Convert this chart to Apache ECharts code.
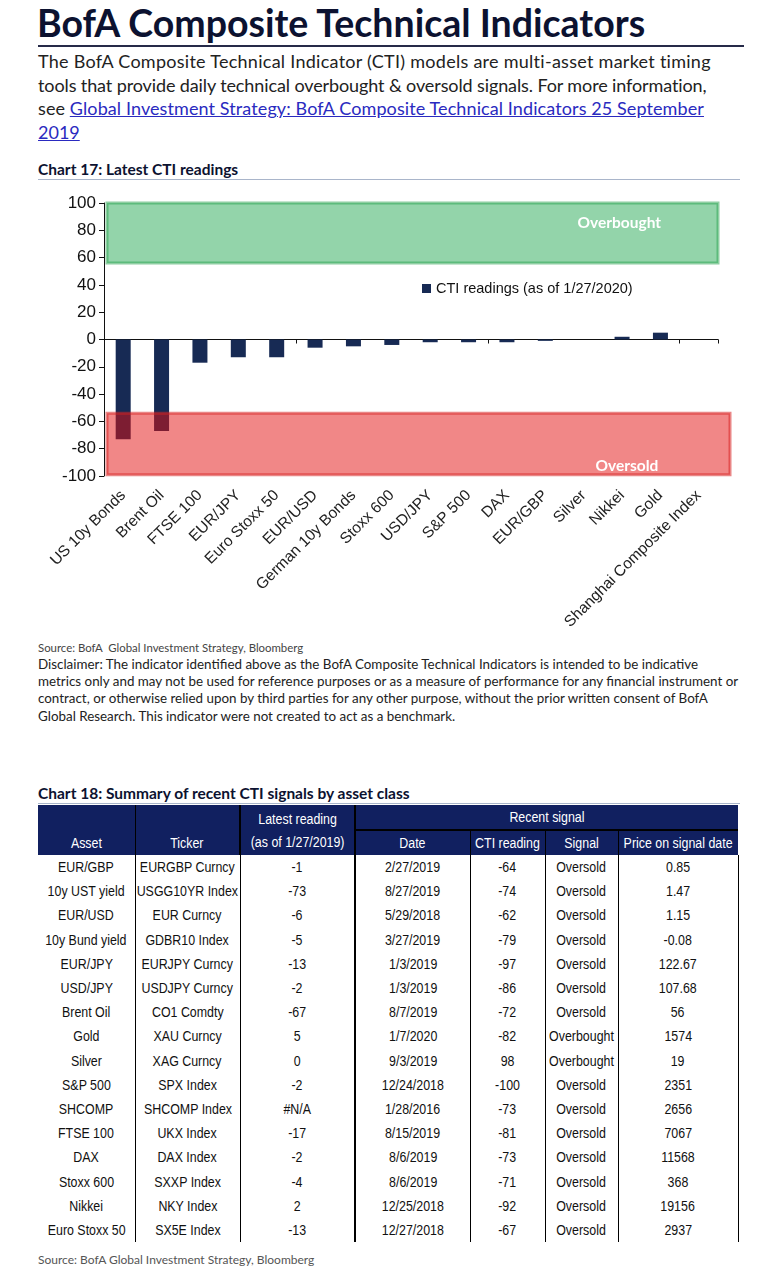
<!DOCTYPE html>
<html>
<head>
<meta charset="utf-8">
<script src="https://cdn.jsdelivr.net/npm/echarts/dist/echarts.min.js"></script>
<style>
  html, body { margin:0; padding:0; background:#fff; }
  body { width:771px; height:1280px; position:relative; overflow:hidden; font-family:Lato, "Open Sans", sans-serif; color:#1a1a1a; }
  .abs { position:absolute; white-space:nowrap; }
  #title { left:37px; top:1px; font-size:37.5px; font-weight:bold; line-height:44px; color:#0c1230; }
  #rule1 { left:38px; top:45px; width:706px; height:2px; background:#262a48; }
  #intro { left:38px; top:50px; font-size:18px; line-height:23.7px; color:#222; }
  #intro div { white-space:nowrap; }
  #intro a { color:#2a2ac0; text-decoration:underline; }
  .ctitle { left:38px; font-size:15.5px; font-weight:bold; line-height:18px; color:#0c1230; }
  .crule { left:38px; width:702px; height:1px; background:#a9b5ca; }
  #chart { position:absolute; left:0; top:190px; width:771px; height:445px; }
  #src1 { left:38px; top:640px; font-size:11.4px; line-height:16px; color:#444; }
  #disc { left:38px; top:656px; font-size:13.4px; line-height:17.2px; color:#222; }
  #src2 { left:38px; top:1252px; font-size:12px; line-height:16px; color:#555; }
  #tbl { position:absolute; left:38px; top:805px; border-collapse:collapse; table-layout:fixed; width:700px;
         font-family:"Liberation Sans", Arial, sans-serif; font-size:15.5px; color:#111; }
  #tbl th { background:#112060; color:#fff; font-weight:normal; height:24px; padding:0; text-align:center; border:0; }
  #tbl td { height:24.2px; padding:0; }
  .cw { display:flex; justify-content:center; width:100%; }
  .cw span { display:inline-block; transform:scaleX(0.8); white-space:nowrap; text-align:center; }
  #tbl th.rb1 { border-right:1px solid #000; }
  #tbl th.rb2 { border-right:2px solid #000; }
  #tbl th.bb { border-bottom:2px solid #000; }
  #tbl th.tall { line-height:23px; vertical-align:middle; }
  #tbl th.bot { vertical-align:bottom; padding-bottom:3px; }
  #tbl td.c1 { border-right:1px solid #000; }
  #tbl td.c2 { border-right:1.5px solid #000; }
  #tbl td.c3 { border-right:2px solid #000; }
  #tbl td.c4, #tbl td.c5, #tbl td.c6, #tbl td.c7 { border-right:1.5px solid #000; }
</style>
</head>
<body>
<div id="title" class="abs">BofA Composite Technical Indicators</div>
<div id="rule1" class="abs"></div>
<div id="intro" class="abs">
  <div style="letter-spacing:0.27px">The BofA Composite Technical Indicator (CTI) models are multi-asset market timing</div>
  <div style="letter-spacing:-0.11px">tools that provide daily technical overbought &amp; oversold signals. For more information,</div>
  <div style="letter-spacing:0.1px">see <a href="#">Global Investment Strategy: BofA Composite Technical Indicators 25 September</a></div>
  <div><a href="#">2019</a></div>
</div>

<div class="abs ctitle" style="top:160px;">Chart 17: Latest CTI readings</div>
<div class="abs crule" style="top:179px;"></div>
<div id="chart"></div>

<div id="src1" class="abs">Source: BofA&nbsp; Global Investment Strategy, Bloomberg</div>
<div id="disc" class="abs">Disclaimer: The indicator identified above as the BofA Composite Technical Indicators is intended to be indicative<br>metrics only and may not be used for reference purposes or as a measure of performance for any financial instrument or<br>contract, or otherwise relied upon by third parties for any other purpose, without the prior written consent of BofA<br>Global Research. This indicator were not created to act as a benchmark.</div>

<div class="abs ctitle" style="top:784px;">Chart 18: Summary of recent CTI signals by asset class</div>
<div class="abs crule" style="top:803px;"></div>
<table id="tbl">
  <colgroup>
    <col style="width:97px"><col style="width:105px"><col style="width:115px"><col style="width:115px"><col style="width:75px"><col style="width:73px"><col style="width:120px">
  </colgroup>
  <thead>
    <tr>
      <th rowspan="2" class="rb1 bot"><div class="cw"><span>Asset</span></div></th>
      <th rowspan="2" class="rb2 bot"><div class="cw"><span>Ticker</span></div></th>
      <th rowspan="2" class="rb2 tall"><div class="cw"><span>Latest reading<br>(as of 1/27/2019)</span></div></th>
      <th colspan="4" class="bb"><div class="cw"><span>Recent signal</span></div></th>
    </tr>
    <tr>
      <th class="rb1"><div class="cw"><span>Date</span></div></th>
      <th class="rb1"><div class="cw"><span>CTI reading</span></div></th>
      <th class="rb1"><div class="cw"><span>Signal</span></div></th>
      <th><div class="cw"><span>Price on signal date</span></div></th>
    </tr>
  </thead>
  <tbody id="tbody"></tbody>
</table>
<div id="src2" class="abs">Source: BofA Global Investment Strategy, Bloomberg</div>

<script>
// ---- Chart 17 data ----
const categories = ['US 10y Bonds','Brent Oil','FTSE 100','EUR/JPY','Euro Stoxx 50','EUR/USD','German 10y Bonds','Stoxx 600','USD/JPY','S&P 500','DAX','EUR/GBP','Silver','Nikkei','Gold','Shanghai Composite Index'];
const ctiReadings = [-73,-67,-17,-13,-13,-6,-5,-4,-2,-2,-2,-1,0,2,5,null];
const seriesName = 'CTI readings (as of 1/27/2020)';
const overboughtBand = [56, 100];
const oversoldBand = [-99, -54];
const yMin = -100, yMax = 100, yStep = 20;

// ---- Chart 18 data ----
const assets   = ['EUR/GBP','10y UST yield','EUR/USD','10y Bund yield','EUR/JPY','USD/JPY','Brent Oil','Gold','Silver','S&P 500','SHCOMP','FTSE 100','DAX','Stoxx 600','Nikkei','Euro Stoxx 50'];
const tickers  = ['EURGBP Curncy','USGG10YR Index','EUR Curncy','GDBR10 Index','EURJPY Curncy','USDJPY Curncy','CO1 Comdty','XAU Curncy','XAG Curncy','SPX Index','SHCOMP Index','UKX Index','DAX Index','SXXP Index','NKY Index','SX5E Index'];
const latest   = ['-1','-73','-6','-5','-13','-2','-67','5','0','-2','#N/A','-17','-2','-4','2','-13'];
const sigDates = ['2/27/2019','8/27/2019','5/29/2018','3/27/2019','1/3/2019','1/3/2019','8/7/2019','1/7/2020','9/3/2019','12/24/2018','1/28/2016','8/15/2019','8/6/2019','8/6/2019','12/25/2018','12/27/2018'];
const sigCti   = ['-64','-74','-62','-79','-97','-86','-72','-82','98','-100','-73','-81','-73','-71','-92','-67'];
const signals  = ['Oversold','Oversold','Oversold','Oversold','Oversold','Oversold','Oversold','Overbought','Overbought','Oversold','Oversold','Oversold','Oversold','Oversold','Oversold','Oversold'];
const prices   = ['0.85','1.47','1.15','-0.08','122.67','107.68','56','1574','19','2351','2656','7067','11568','368','19156','2937'];

// build table
const tb = document.getElementById('tbody');
for (let i = 0; i < assets.length; i++) {
  const tr = document.createElement('tr');
  [assets[i], tickers[i], latest[i], sigDates[i], sigCti[i], signals[i], prices[i]].forEach((v, j) => {
    const td = document.createElement('td');
    td.className = 'c' + (j + 1);
    const w = document.createElement('div'); w.className = 'cw';
    const s = document.createElement('span'); s.textContent = v;
    w.appendChild(s); td.appendChild(w);
    tr.appendChild(td);
  });
  tb.appendChild(tr);
}

const sans = '"Liberation Sans", Arial, sans-serif';
const chart = echarts.init(document.getElementById('chart'), null, { renderer: 'canvas' });
chart.setOption({
  animation: false,
  backgroundColor: '#fff',
  grid: { left: 104, top: 13, width: 614, height: 273 },
  legend: {
    data: [seriesName], left: 417, top: 86, icon: 'rect', itemWidth: 9, itemHeight: 9, itemGap: 5,
    textStyle: { fontFamily: sans, fontSize: 14.5, color: '#111' }
  },
  xAxis: [
    {
      type: 'category', data: categories, position: 'bottom',
      axisLine: { show: false, onZero: false }, axisTick: { show: false },
      axisLabel: { interval: 0, rotate: 45, margin: 17, fontFamily: sans, fontSize: 15.5, color: '#222' }
    },
    {
      type: 'category', data: categories, position: 'top',
      axisLine: { show: true, onZero: true, lineStyle: { color: '#111', width: 1 } },
      axisTick: { show: true, inside: true, length: 4, lineStyle: { color: '#111' } },
      axisLabel: { show: false }
    }
  ],
  yAxis: {
    type: 'value', min: yMin, max: yMax, interval: yStep,
    axisLine: { show: true, lineStyle: { color: '#111', width: 1 } },
    axisTick: { show: true, length: 5, lineStyle: { color: '#111' } },
    splitLine: { show: false },
    axisLabel: { margin: 8, fontFamily: sans, fontSize: 17, color: '#111' }
  },
  series: [
    {
      name: seriesName, type: 'bar', data: ctiReadings, xAxisIndex: 0, yAxisIndex: 0,
      barWidth: 15, itemStyle: { color: '#172a54' },
      markArea: {
        silent: true, z: 5,
        data: [
          [
            { yAxis: overboughtBand[1], x: 107,
              itemStyle: { color: 'rgba(40,170,85,0.5)', borderColor: 'rgba(50,165,85,0.55)', borderWidth: 3 },
              label: { show: true, position: [472, 13], color: '#fff', fontFamily: 'Lato, sans-serif', fontWeight: 'bold', fontSize: 15.5, formatter: 'Overbought' } },
            { yAxis: overboughtBand[0], x: 718 }
          ],
          [
            { yAxis: oversoldBand[1], x: 107,
              itemStyle: { color: 'rgba(228,15,15,0.5)', borderColor: 'rgba(215,35,35,0.55)', borderWidth: 3 },
              label: { show: true, position: [490, 46], color: '#fff', fontFamily: 'Lato, sans-serif', fontWeight: 'bold', fontSize: 15.5, formatter: 'Oversold' } },
            { yAxis: oversoldBand[0], x: 730 }
          ]
        ]
      }
    }
  ]
});
</script>
</body>
</html>
